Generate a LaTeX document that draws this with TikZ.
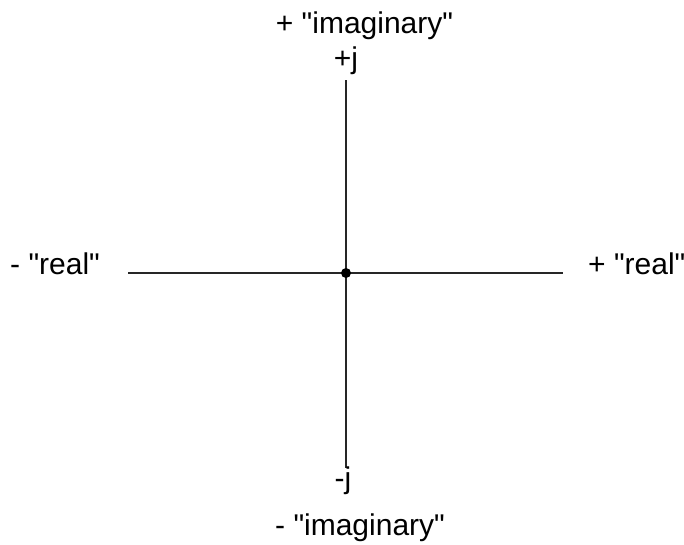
\documentclass[tikz,border=0pt]{standalone}
\usepackage{fontspec}
\setmainfont{Liberation Sans}[Ligatures=TeXOff]
\begin{document}
\begin{tikzpicture}[x=1pt,y=-1pt,
  lbl/.style={inner sep=0pt,font=\fontsize{30}{36}\selectfont},
  axis/.style={line width=2pt,black!85},
  dotstyle/.style={circle,fill=black,inner sep=0pt,minimum size=10pt}]
\useasboundingbox (0,0) rectangle (684,544);
\coordinate (xl) at (128,273);
\coordinate (xr) at (563,273);
\coordinate (yt) at (346,80);
\coordinate (yb) at (346,468);
\draw[axis] (xl) -- (xr);
\draw[axis] (yt) -- (yb);
\node[dotstyle] (o) at (346,273) {};
\node[lbl,anchor=base] (timag) at (364.5,33) {+ "imaginary"};
\node[lbl,anchor=base] (pj) at (346,68) {+j};
\node[lbl,anchor=base west] (lreal) at (10,274) {- "real"};
\node[lbl,anchor=base west] (rreal) at (588,274) {+ "real"};
\node[lbl,anchor=base] (mj) at (343,488) {-j};
\node[lbl,anchor=base west] (bimag) at (275,535) {- "imaginary"};
\end{tikzpicture}
\end{document}
